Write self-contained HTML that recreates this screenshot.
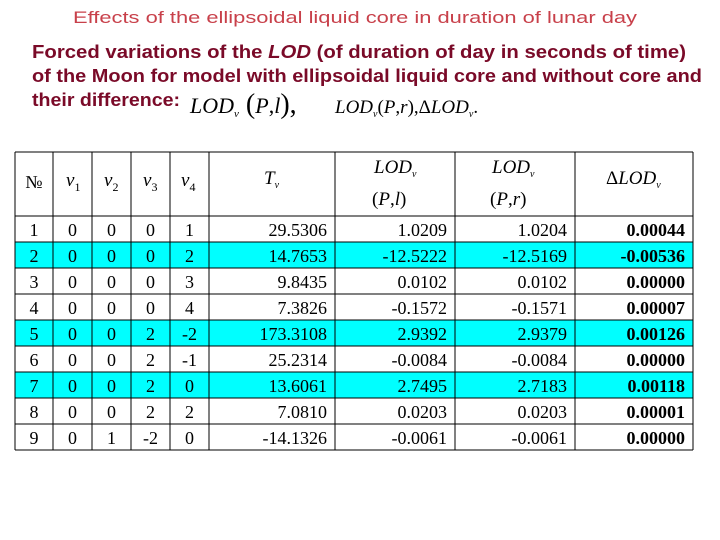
<!DOCTYPE html>
<html><head><meta charset="utf-8"><style>
body{margin:0;background:#fff;width:720px;height:540px;overflow:hidden;position:relative}
svg{position:absolute;left:0;top:0}
</style></head><body>
<svg width="720" height="540">
<text x="73" y="23" textLength="564" lengthAdjust="spacingAndGlyphs" font-family="Liberation Sans, sans-serif" font-size="17" fill="#c8404a">Effects of the ellipsoidal liquid core in duration of lunar day</text>
<g font-family="Liberation Sans, sans-serif" font-size="18" font-weight="bold" fill="#7a0a28">
<text x="32" y="58" textLength="654" lengthAdjust="spacingAndGlyphs">Forced variations of the   <tspan font-style="italic">LOD</tspan> (of duration of day in seconds of time)</text>
<text x="32" y="82" textLength="670" lengthAdjust="spacingAndGlyphs">of the Moon for model with ellipsoidal liquid core and without core and</text>
<text x="32" y="106" textLength="148" lengthAdjust="spacingAndGlyphs">their difference:</text>
</g>
<g font-family="Liberation Serif, serif" fill="#000">
<text x="190" y="113" font-size="22" font-style="italic">LOD<tspan font-size="11" dy="4">v</tspan><tspan dy="-4" font-style="normal" font-size="28"> (</tspan>P<tspan font-style="normal">,</tspan>l<tspan font-style="normal" font-size="28">),</tspan></text>
<text x="335" y="113" font-size="19" font-style="italic">LOD<tspan font-size="10" dy="4">v</tspan><tspan dy="-4" font-style="normal">(</tspan>P<tspan font-style="normal">,</tspan>r<tspan font-style="normal">),Δ</tspan>LOD<tspan font-size="10" dy="4">v</tspan><tspan dy="-4" font-style="normal">.</tspan></text>
</g>
<g id="table"></g>
</svg>
<script>
const rowsNo=["1","2","3","4","5","6","7","8","9"];
const v1=["0","0","0","0","0","0","0","0","0"];
const v2=["0","0","0","0","0","0","0","0","1"];
const v3=["0","0","0","0","2","2","2","2","-2"];
const v4=["1","2","3","4","-2","-1","0","2","0"];
const Tv=["29.5306","14.7653","9.8435","7.3826","173.3108","25.2314","13.6061","7.0810","-14.1326"];
const lodL=["1.0209","-12.5222","0.0102","-0.1572","2.9392","-0.0084","2.7495","0.0203","-0.0061"];
const lodR=["1.0204","-12.5169","0.0102","-0.1571","2.9379","-0.0084","2.7183","0.0203","-0.0061"];
const dLod=["0.00044","-0.00536","0.00000","0.00007","0.00126","0.00000","0.00118","0.00001","0.00000"];
const highlighted=[false,true,false,false,true,false,true,false,false];
(function(){
const NS="http://www.w3.org/2000/svg";
const g=document.getElementById('table');
const cx=[15,53,92,131,170,209,335,455,575,693];
const tableTop=152,hdrB=216,rh=26;
function mk(t,a,txt){const e=document.createElementNS(NS,t);for(const k in a)e.setAttribute(k,a[k]);if(txt!=null)e.textContent=txt;g.appendChild(e);return e;}
for(let i=0;i<rowsNo.length;i++){ if(highlighted[i]){const r=mk('rect',{x:cx[0],y:hdrB+i*rh,width:cx[9]-cx[0],height:rh,fill:'#00ffff'});

}}
const cols=[rowsNo,v1,v2,v3,v4,Tv,lodL,lodR,dLod];
for(let i=0;i<rowsNo.length;i++){const y=hdrB+i*rh+20;
 cols.forEach((c,j)=>{let x,anchor;if(j<5){x=(cx[j]+cx[j+1])/2;anchor='middle';}else{x=cx[j+1]-8;anchor='end';}
 const t=mk('text',{x:x,y:y,'text-anchor':anchor,'font-family':'Liberation Serif, serif','font-size':'18','font-weight':j==8?'bold':'normal',fill:'#000'},c[i]);
 
 });}
const bot=hdrB+rowsNo.length*rh;
cx.forEach(x=>{const l=mk('line',{x1:x,x2:x,y1:tableTop,y2:bot,stroke:'#000','stroke-width':1});

});
[tableTop,hdrB].concat(rowsNo.map((_,i)=>hdrB+(i+1)*rh)).forEach(y=>{const l=mk('line',{x1:cx[0],x2:cx[9],y1:y,y2:y,stroke:'#000','stroke-width':1});

});
const H='font-family="Liberation Serif, serif" font-size="19" font-style="italic"';
const hdr=document.createElementNS(NS,'g');


hdr.innerHTML=`<text x="34" y="188" text-anchor="middle" font-family="Liberation Serif, serif" font-size="18">№</text>
<text x="66" y="186" ${H}>ν<tspan font-size="12" dy="5" font-style="normal">1</tspan></text>
<text x="104" y="186" ${H}>ν<tspan font-size="12" dy="5" font-style="normal">2</tspan></text>
<text x="143" y="186" ${H}>ν<tspan font-size="12" dy="5" font-style="normal">3</tspan></text>
<text x="181" y="186" ${H}>ν<tspan font-size="12" dy="5" font-style="normal">4</tspan></text>
<text x="264" y="184" ${H}>T<tspan font-size="10" dy="4">v</tspan></text>
<text x="374" y="173" ${H} font-size="18">LOD<tspan font-size="10" dy="4">v</tspan></text>
<text x="372" y="205" ${H} font-size="18"><tspan font-style="normal">(</tspan>P<tspan font-style="normal">,</tspan>l<tspan font-style="normal">)</tspan></text>
<text x="492" y="173" ${H} font-size="18">LOD<tspan font-size="10" dy="4">v</tspan></text>
<text x="490" y="205" ${H} font-size="18"><tspan font-style="normal">(</tspan>P<tspan font-style="normal">,</tspan>r<tspan font-style="normal">)</tspan></text>
<text x="606" y="184" ${H} font-size="18"><tspan font-style="normal">Δ</tspan>LOD<tspan font-size="10" dy="4">v</tspan></text>`;
g.appendChild(hdr);
})();
</script>
</body></html>
